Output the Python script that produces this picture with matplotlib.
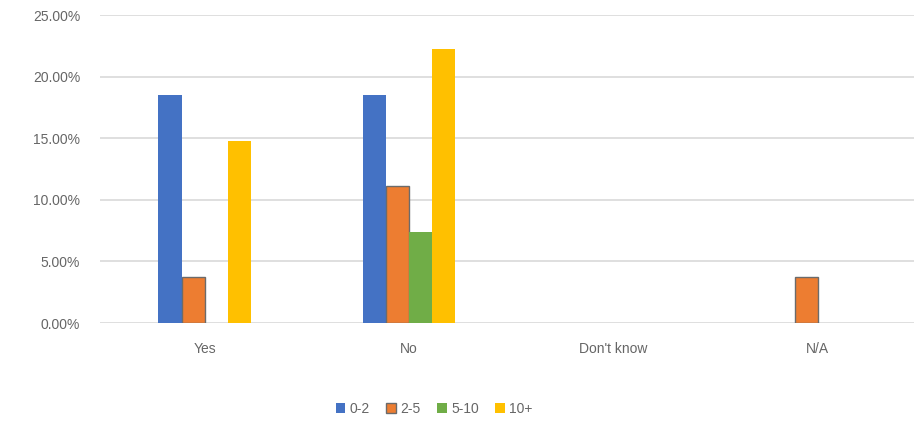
import matplotlib.pyplot as plt
import matplotlib.ticker as mticker
import numpy as np

categories = ["Yes", "No", "Don't know", "N/A"]
series = ["0-2", "2-5", "5-10", "10+"]
v_0_2 = [0.1852, 0.1852, 0.0, 0.0]
v_2_5 = [0.0370, 0.1111, 0.0, 0.0370]
v_5_10 = [0.0, 0.0741, 0.0, 0.0]
v_10p = [0.1481, 0.2222, 0.0, 0.0]

colors = ["#4472C4", "#ED7D31", "#70AD47", "#FFC000"]
edges = ["none", "#6b6b6b", "none", "none"]

plt.rcParams['font.family'] = ['Liberation Sans', 'DejaVu Sans']

fig = plt.figure(figsize=(9.14, 4.23), dpi=100)
ax = fig.add_axes([0.109, 0.2364, 0.891, 0.7281])

x = np.arange(len(categories))
w = 0.113
for i, (vals, name) in enumerate(zip([v_0_2, v_2_5, v_5_10, v_10p], series)):
    bars = ax.bar(x + (i - 1.5) * w, vals, w, color=colors[i], label=name,
                  edgecolor=edges[i], linewidth=1.0 if edges[i] != "none" else 0, zorder=3)
    # no outline on empty bars
    for b, v in zip(bars, vals):
        if v == 0:
            b.set_linewidth(0)

ax.set_xlim(-0.514, 3.47)
ax.set_ylim(0, 0.25)
ax.set_yticks(np.arange(0, 0.2501, 0.05))
ax.yaxis.set_major_formatter(mticker.FuncFormatter(lambda v, p: f"{v*100:.2f}%"))
ax.set_xticks(x)
ax.set_xticklabels(categories)
ax.grid(axis='y', color='#d9d9d9', linewidth=1.2, zorder=0)
for s in ax.spines.values():
    s.set_visible(False)
ax.tick_params(axis='both', length=0, colors='#666666', labelsize=10)
ax.tick_params(axis='x', pad=14)
ax.tick_params(axis='y', pad=14)

fig.legend(loc='center', bbox_to_anchor=(0.475, 0.033), ncol=4, frameon=False,
           fontsize=10, labelcolor='#666666', handlelength=0.7, handleheight=0.7,
           handletextpad=0.3, columnspacing=1.2)

fig.savefig("out.png", dpi=100)
